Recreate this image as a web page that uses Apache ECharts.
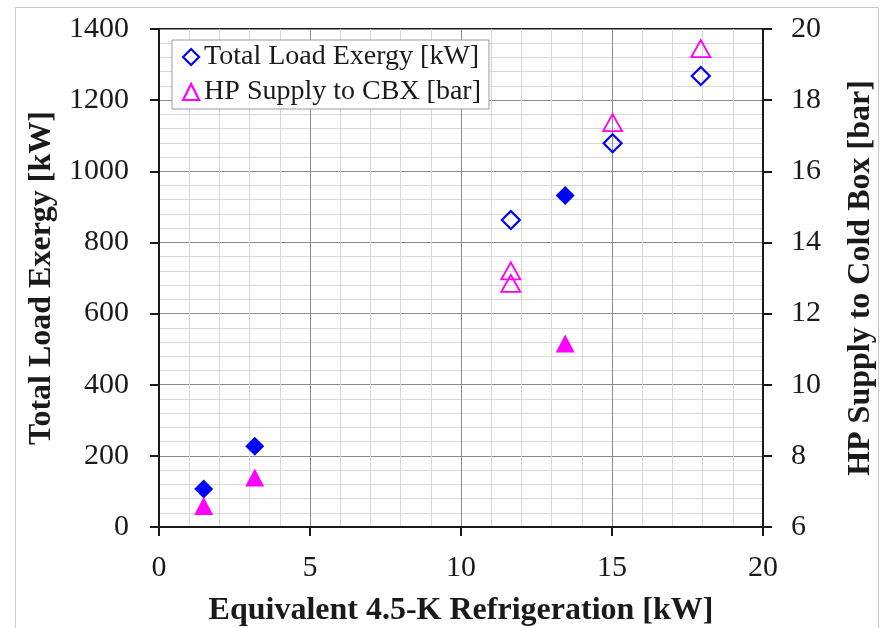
<!DOCTYPE html>
<html>
<head>
<meta charset="utf-8">
<script src="https://cdn.jsdelivr.net/npm/echarts@6/dist/echarts.min.js"></script>
<style>
  html, body { margin: 0; padding: 0; background: #fff; }
  #chart { width: 886px; height: 628px; }
</style>
</head>
<body>
<div id="chart"></div>
<script>
// ---- Data ----
const exergyOpenX = [11.65, 15.02, 17.94];
const exergyOpenY = [863, 1079, 1268];
const exergyFilledX = [1.48, 3.17, 13.45];
const exergyFilledY = [107, 227, 932];

const hpOpenX = [11.65, 11.65, 15.02, 17.94];
const hpOpenY = [13.20, 12.85, 17.37, 19.45];
const hpFilledX = [1.48, 3.17, 13.45];
const hpFilledY = [6.59, 7.39, 11.16];

const xTitle = 'Equivalent 4.5-K Refrigeration [kW]';
const yLeftTitle = 'Total Load Exergy [kW]';
const yRightTitle = 'HP Supply to Cold Box [bar]';
const seriesNames = ['Total Load Exergy [kW]', 'HP Supply to CBX [bar]'];

function pairs(xs, ys) { return xs.map((x, i) => [x, ys[i]]); }

const BLUE = '#0000ff';
const MAGENTA = '#ff00ff';
const FONT = '"Liberation Serif", "Times New Roman", serif';

const chart = echarts.init(document.getElementById('chart'), null, { renderer: 'canvas' });

const plainNum = v => String(v);

const axisCommon = {
  axisLine: { show: true, lineStyle: { color: '#1a1a1a', width: 2 } },
  axisTick: { show: true, inside: false, length: 9, lineStyle: { color: '#1a1a1a', width: 2 } },
  axisLabel: { color: '#1a1a1a', fontFamily: FONT, fontSize: 30, formatter: plainNum },
  nameTextStyle: { color: '#1a1a1a', fontFamily: FONT, fontSize: 32, fontWeight: 'bold' },
  nameLocation: 'middle'
};

chart.setOption({
  backgroundColor: '#ffffff',
  animation: false,
  graphic: [{
    type: 'rect',
    z: -10,
    shape: { x: 15.5, y: 7.5, width: 863, height: 640 },
    style: { fill: 'none', stroke: '#c8c8c8', lineWidth: 1 }
  }],
  grid: {
    left: 159, right: 123, top: 29, bottom: 101,
    containLabel: false,
    outerBoundsMode: 'none',
    show: true, borderColor: '#1a1a1a', borderWidth: 2, backgroundColor: 'transparent'
  },
  legend: {
    show: true,
    orient: 'vertical',
    left: 172, top: 40,
    padding: [1, 8, 1, 10],
    itemGap: 3,
    itemWidth: 16, itemHeight: 16,
    backgroundColor: '#ffffff',
    borderColor: '#9a9a9a', borderWidth: 1,
    textStyle: { color: '#1a1a1a', fontFamily: FONT, fontSize: 28, lineHeight: 32 },
    data: [
      { name: seriesNames[0], icon: 'diamond', itemStyle: { color: 'rgba(0,0,0,0)', borderColor: BLUE, borderWidth: 2.2 } },
      { name: seriesNames[1], icon: 'triangle', itemStyle: { color: 'rgba(0,0,0,0)', borderColor: MAGENTA, borderWidth: 2.2 } }
    ]
  },
  xAxis: Object.assign({}, axisCommon, {
    type: 'value', min: 0, max: 20, interval: 5,
    name: xTitle, nameGap: 68,
    axisLabel: Object.assign({}, axisCommon.axisLabel, { margin: 26 }),
    splitLine: { show: true, lineStyle: { color: '#8c8c8c', width: 1 } },
    minorTick: { show: false, splitNumber: 5 },
    minorSplitLine: { show: true, lineStyle: { color: '#d8d8d8', width: 1 } }
  }),
  yAxis: [
    Object.assign({}, axisCommon, {
      type: 'value', min: 0, max: 1400, interval: 200, position: 'left',
      name: yLeftTitle, nameGap: 95, nameRotate: 90,
      axisLabel: Object.assign({}, axisCommon.axisLabel, { margin: 30 }),
      splitLine: { show: true, lineStyle: { color: '#8c8c8c', width: 1 } },
      minorTick: { show: false, splitNumber: 5 },
      minorSplitLine: { show: true, lineStyle: { color: '#d8d8d8', width: 1 } }
    }),
    Object.assign({}, axisCommon, {
      type: 'value', min: 6, max: 20, interval: 2, position: 'right',
      name: yRightTitle, nameGap: 82, nameRotate: 90,
      axisLabel: Object.assign({}, axisCommon.axisLabel, { margin: 28 }),
      splitLine: { show: false }
    })
  ],
  series: [
    {
      name: seriesNames[0], type: 'scatter', yAxisIndex: 0,
      symbol: 'diamond', symbolSize: 18,
      itemStyle: { color: 'rgba(0,0,0,0)', borderColor: BLUE, borderWidth: 2.2, opacity: 1 },
      data: pairs(exergyOpenX, exergyOpenY), z: 3
    },
    {
      name: seriesNames[0] + ' (filled)', type: 'scatter', yAxisIndex: 0,
      symbol: 'diamond', symbolSize: 19,
      itemStyle: { color: BLUE, opacity: 1 },
      data: pairs(exergyFilledX, exergyFilledY), z: 3
    },
    {
      name: seriesNames[1], type: 'scatter', yAxisIndex: 1,
      symbol: 'triangle', symbolSize: [19, 17],
      itemStyle: { color: 'rgba(0,0,0,0)', borderColor: MAGENTA, borderWidth: 1.8, opacity: 1 },
      data: pairs(hpOpenX, hpOpenY), z: 3
    },
    {
      name: seriesNames[1] + ' (filled)', type: 'scatter', yAxisIndex: 1,
      symbol: 'triangle', symbolSize: [19, 18],
      itemStyle: { color: MAGENTA, opacity: 1 },
      data: pairs(hpFilledX, hpFilledY), z: 3
    }
  ]
});
</script>
</body>
</html>
